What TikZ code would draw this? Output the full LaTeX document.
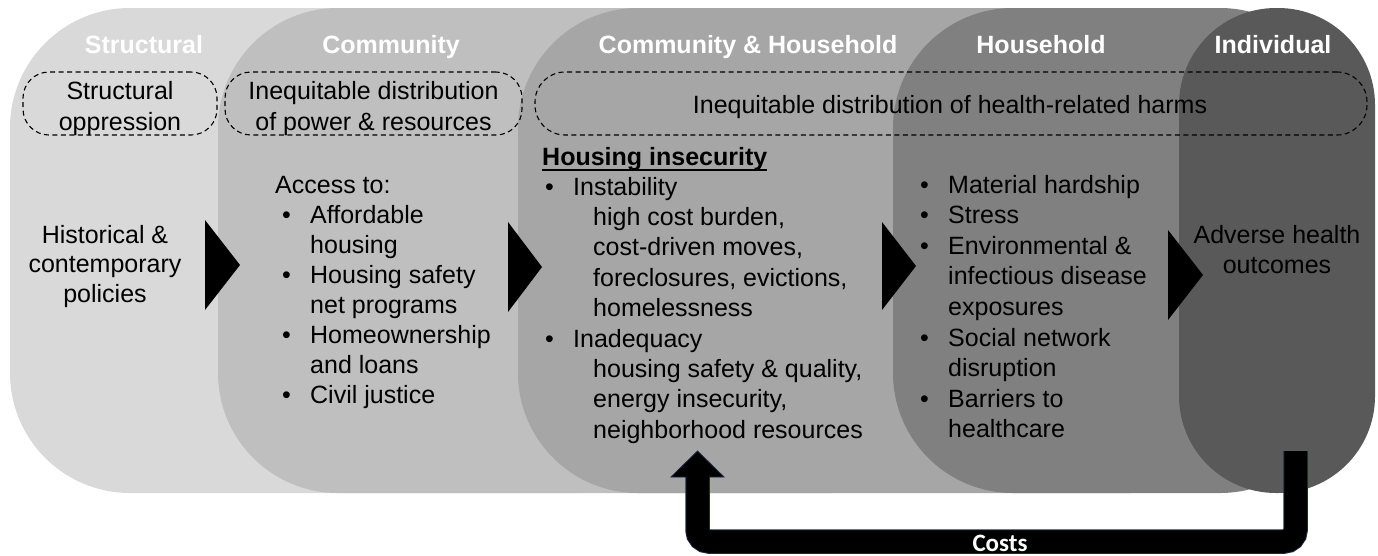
\documentclass[tikz,border=0pt]{standalone}
\usepackage{fontspec}
\setmainfont{Liberation Sans}
\newfontfamily\costfont{Carlito}
\definecolor{gA}{HTML}{D9D9D9}
\definecolor{gB}{HTML}{BFBFBF}
\definecolor{gC}{HTML}{A6A6A6}
\definecolor{gD}{HTML}{808080}
\definecolor{gE}{HTML}{595959}
\definecolor{navy}{HTML}{1F2A44}
\newcommand{\blt}{\makebox[28pt][l]{\textbullet}}
\newcommand{\ind}[1]{\hspace*{#1pt}}
\begin{document}
\begin{tikzpicture}[x=1pt,y=-1pt,
  hdr/.style={text=white, font=\fontsize{25}{30}\selectfont\bfseries, anchor=base, inner sep=0pt},
  body/.style={font=\fontsize{25}{30.4}\selectfont, inner sep=0pt, text=black},
  dbox/.style={draw=black, dash pattern=on 5pt off 3.5pt, line width=1.1pt, inner sep=0pt},
  tri/.style={fill=black},
  panel/.style={rounded corners=120pt}]
\useasboundingbox (0,0) rectangle (1378,555);
\fill[white] (0,0) rectangle (1378,555);
% panels
\fill[gA, panel] (10,8) rectangle (700,493);
\fill[gB, panel] (218,8) rectangle (950,493);
\fill[gC, panel] (518,8) rectangle (1250,493);
\fill[gD, panel] (893,8) rectangle (1340,493);
\fill[gE, rounded corners=97pt] (1179,8) rectangle (1375,493);
% headers
\node[hdr] (hS) at (144,53) {Structural};
\node[hdr] (hC) at (391,53) {Community};
\node[hdr] (hCH) at (748,53) {Community \& Household};
\node[hdr] (hH) at (1041,53) {Household};
\node[hdr] (hI) at (1273,53) {Individual};
% dashed boxes
\node[dbox, rounded corners=26pt, minimum width=194pt, minimum height=63pt] (ob1) at (120,103.5) {};
\node[dbox, rounded corners=26pt, minimum width=297pt, minimum height=63pt] (ob2) at (373.5,103.5) {};
\node[dbox, rounded corners=30pt, minimum width=832pt, minimum height=63pt] (ob3) at (951,103.5) {};
% (multi-line nodes: the base anchor is the baseline of the last line)
\node[body, align=center, anchor=base, font=\fontsize{25}{31}\selectfont] (t1) at (120,130) {Structural\\oppression};
\node[body, align=center, anchor=base, font=\fontsize{25}{31}\selectfont] (t2) at (373.5,130) {Inequitable distribution\\of power \& resources};
\node[body, anchor=base] (t3) at (950,113) {Inequitable distribution of health-related harms};
% column texts
\node[body, align=center, anchor=base, font=\fontsize{25}{29.5}\selectfont] (pol) at (105,302) {Historical \&\\contemporary\\policies};
\node[body, align=left, anchor=base west, font=\fontsize{25}{30}\selectfont] (acc) at (275,403) {Access to:\\
\ind{7}\blt Affordable\\
\ind{35}housing\\
\ind{7}\blt Housing safety\\
\ind{35}net programs\\
\ind{7}\blt Homeownership\\
\ind{35}and loans\\
\ind{7}\blt Civil justice};
\node[body, anchor=base west, font=\fontsize{25}{30}\selectfont\bfseries] (hi) at (542,165) {Housing insecurity};
\draw[line width=1.8pt] ([yshift=-5pt]hi.base west) -- ([yshift=-5pt]hi.base east);
\node[body, align=left, anchor=base west] (hil) at (545,438.2) {\blt Instability\\
\ind{48}high cost burden,\\
\ind{48}cost-driven moves,\\
\ind{48}foreclosures, evictions,\\
\ind{48}homelessness\\
\blt Inadequacy\\
\ind{48}housing safety \& quality,\\
\ind{48}energy insecurity,\\
\ind{48}neighborhood resources};
\node[body, align=left, anchor=base west, font=\fontsize{25}{30.6}\selectfont] (hh) at (920,437.8) {\blt Material hardship\\
\blt Stress\\
\blt Environmental \&\\
\ind{28}infectious disease\\
\ind{28}exposures\\
\blt Social network\\
\ind{28}disruption\\
\blt Barriers to\\
\ind{28}healthcare};
\node[body, align=center, anchor=base, font=\fontsize{25}{30}\selectfont] (adv) at (1277,273) {Adverse health\\outcomes};
% triangles
\fill[tri] (205,220) -- (240,265) -- (205,310) -- cycle;
\fill[tri] (508,222) -- (542,267) -- (508,312) -- cycle;
\fill[tri] (882,222) -- (916,266) -- (882,310) -- cycle;
\fill[tri] (1168,230) -- (1203,275) -- (1168,320) -- cycle;
% costs arrow
\coordinate (cs) at (1295.5,451);
\coordinate (ce) at (697.5,476);
\coordinate (tip) at (697.5,451);
\draw[navy, line width=24.5pt, rounded corners=11.5pt] (cs) -- ++(0,90.5) -| (ce);
\draw[black, line width=22.5pt, rounded corners=11.5pt] (cs) -- ++(0,90.5) -| (ce);
\filldraw[fill=black, draw=navy, line width=0.8pt] (tip) -- ++(26.5,26) -- ++(-53,0) -- cycle;
\fill[black] (686.5,474) rectangle (708.5,481);
\node[font=\costfont\bfseries\fontsize{25}{25}\selectfont, text=white, inner sep=0pt, anchor=base] (costs) at (1000,551) {Costs};
\end{tikzpicture}
\end{document}
